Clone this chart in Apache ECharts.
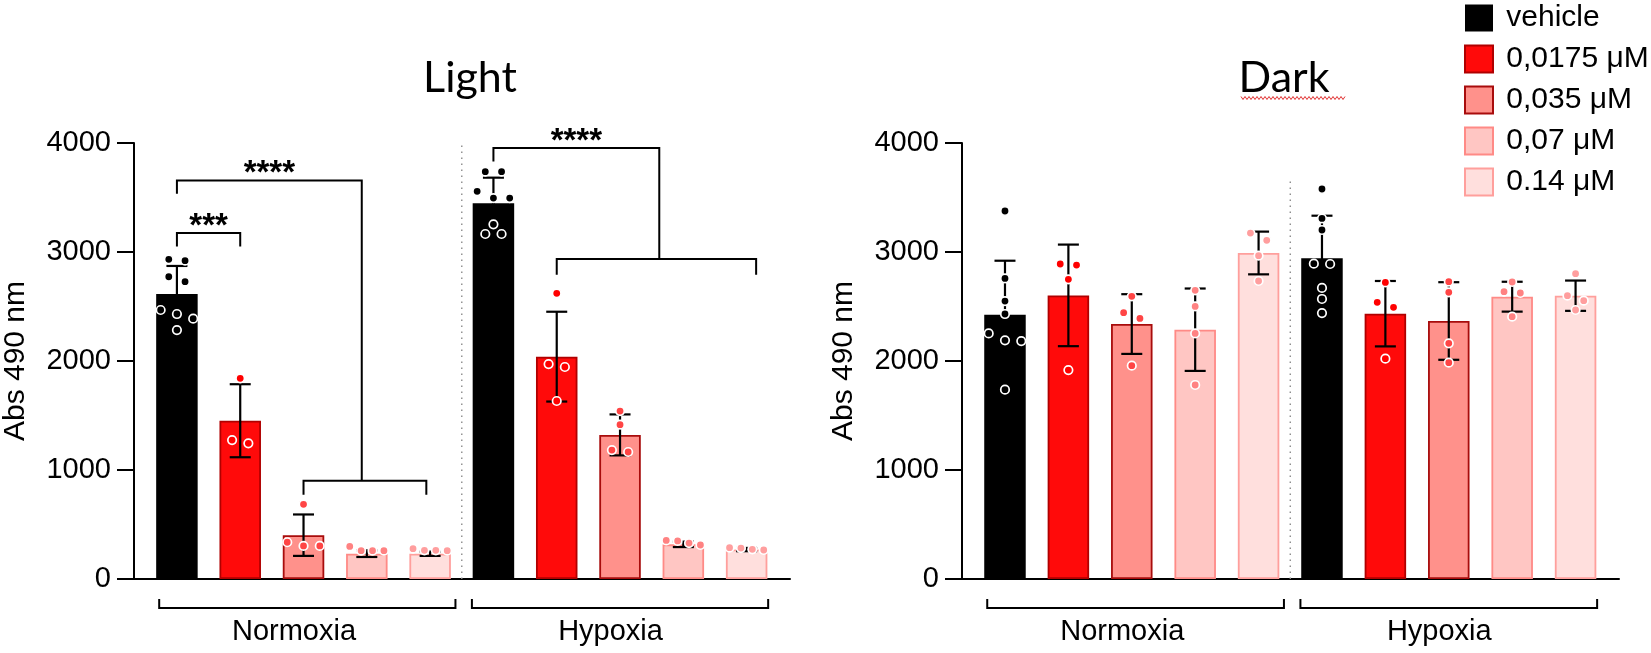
<!DOCTYPE html>
<html>
<head>
<meta charset="utf-8">
<title>Abs 490 nm - Light / Dark</title>
<script src="https://cdn.jsdelivr.net/npm/echarts@6.0.0/dist/echarts.min.js"></script>
<style>
html, body { margin: 0; padding: 0; background: #fff; }
#chart { width: 1651px; height: 653px; }
</style>
</head>
<body>
<div id="chart"></div>
<script>
var doses = ['vehicle', '0,0175 μM', '0,035 μM', '0,07 μM', '0.14 μM'];
var groups = ['Normoxia', 'Hypoxia'];
var panels = ['Light', 'Dark'];
var yTicks = [0, 1000, 2000, 3000, 4000];

// Light - bar means / SD, one entry per dose
var lightNormMean = [2615, 1452, 402, 232, 232];
var lightNormSD = [257, 335, 190, 30, 20];
var lightHypMean = [3447, 2040, 1322, 318, 270];
var lightHypSD = [235, 412, 188, 25, 15];

// Light - single wells
var lightNormDots = [
    [2933, 2920, 2773, 2728, 2468, 2431, 2388, 2284],
    [1841, 1275, 1245],
    [685, 337, 303, 303],
    [299, 260, 260, 260],
    [278, 263, 263, 260]
];
var lightHypDots = [
    [3737, 3737, 3557, 3495, 3495, 3254, 3165, 3165],
    [2621, 1972, 1945, 1633],
    [1541, 1416, 1183, 1165],
    [354, 349, 330, 312],
    [287, 284, 272, 266]
];

// Dark
var darkNormMean = [2425, 2602, 2339, 2287, 2991];
var darkNormSD = [495, 466, 274, 378, 196];
var darkHypMean = [2942, 2434, 2367, 2590, 2599];
var darkHypSD = [391, 300, 356, 137, 139];

var darkNormDots = [
    [3376, 2758, 2550, 2431, 2253, 2190, 2183, 1737],
    [2890, 2880, 2749, 1917],
    [2593, 2443, 2391, 1957],
    [2648, 2501, 2253, 1780],
    [3174, 3107, 2966, 2734]
];
var darkHypDots = [
    [3578, 3308, 3202, 2893, 2890, 2670, 2569, 2440],
    [2721, 2538, 2492, 2021],
    [2728, 2630, 2162, 1985],
    [2725, 2636, 2624, 2407],
    [2801, 2599, 2553, 2468]
];

var means = [[lightNormMean, lightHypMean], [darkNormMean, darkHypMean]];
var sds = [[lightNormSD, lightHypSD], [darkNormSD, darkHypSD]];
var dots = [[lightNormDots, lightHypDots], [darkNormDots, darkHypDots]];

// styling
var barFill = ['#000000', '#ff0a0a', '#ff918b', '#ffc6c3', '#ffdfdd'];
var barLine = ['#000000', '#b00000', '#a80c0c', '#ff8a86', '#ff9f9c'];
var dotFill = ['#000000', '#ff0000', '#ff4545', '#ff8282', '#ff9e9e'];
var FONT = 'Liberation Sans';

// x runs in bar slots: 0-4 normoxia, 5-9 hypoxia
var X_MIN = -0.678, X_MAX = 9.685;
var DOT_STEP = 0.257, ROW_SPAN = 0.54, ROW_TOL = 85;

// significance brackets (only the light panel has them)
var sigBrackets = [
    [
        {stars: '***', from: 0, to: 1, y: 3174, drop: 3051, toDrop: 3051},
        {stars: '****', from: 0, to: 2.92, y: 3657, drop: 3535, toDrop: 902, sub: {from: 2, to: 3.94, drop: 773}},
        {stars: '****', from: 5, to: 7.62, y: 3954, drop: 3831, toDrop: 2936, sub: {from: 6, to: 9.15, drop: 2792}}
    ],
    []
];
var sepTop = [4000, 3650];
var groupSpan = [[-0.28, 4.4], [4.66, 9.34]];
var groupLabelX = [1.85, 6.85];

// simple beeswarm: dots within ROW_TOL of each other share a centred row
function swarm(values, center) {
    var sorted = values.slice().sort(function (a, b) { return b - a; });
    var rows = [], row = null;
    sorted.forEach(function (v) {
        if (row && row[0] - v < ROW_TOL) {
            row.push(v);
        } else {
            row = [v];
            rows.push(row);
        }
    });
    var pts = [];
    rows.forEach(function (r) {
        var step = r.length > 1 ? Math.min(DOT_STEP, ROW_SPAN / (r.length - 1)) : 0;
        r.forEach(function (v, k) {
            pts.push([center + (k - (r.length - 1) / 2) * step, v]);
        });
    });
    return pts;
}

function renderErrorBar(params, api) {
    var x = api.value(0), m = api.value(1), s = api.value(2);
    var top = api.coord([x, m + s]), bot = api.coord([x, m - s]);
    var hw = 10.5;
    var st = {stroke: '#000', lineWidth: 2.2};
    return {
        type: 'group',
        children: [
            {type: 'line', shape: {x1: top[0], y1: top[1], x2: bot[0], y2: bot[1]}, style: st},
            {type: 'line', shape: {x1: top[0] - hw, y1: top[1], x2: top[0] + hw, y2: top[1]}, style: st},
            {type: 'line', shape: {x1: bot[0] - hw, y1: bot[1], x2: bot[0] + hw, y2: bot[1]}, style: st}
        ]
    };
}

function annotationRenderer(p) {
    return function (params, api) {
        var children = [];
        var lineStyle = {stroke: '#000', lineWidth: 2, fill: null};
        function pt(x, y) { return api.coord([x, y]); }

        // dotted divider between normoxia and hypoxia
        var s0 = pt(4.5, 0), s1 = pt(4.5, sepTop[p]);
        children.push({type: 'line', shape: {x1: s0[0], y1: s0[1], x2: s1[0], y2: s1[1]},
            style: {stroke: '#8c8c8c', lineWidth: 1.4, lineDash: [1.4, 4.6]}});

        sigBrackets[p].forEach(function (b) {
            children.push({type: 'polyline', style: lineStyle,
                shape: {points: [pt(b.from, b.drop), pt(b.from, b.y), pt(b.to, b.y), pt(b.to, b.toDrop)]}});
            if (b.sub) {
                children.push({type: 'polyline', style: lineStyle,
                    shape: {points: [pt(b.sub.from, b.sub.drop), pt(b.sub.from, b.toDrop),
                        pt(b.sub.to, b.toDrop), pt(b.sub.to, b.sub.drop)]}});
            }
            var mid = pt((b.from + b.to) / 2, b.y);
            children.push({type: 'text', x: mid[0], y: mid[1] - 6,
                style: {text: b.stars, fill: '#000', fontSize: 33, fontWeight: 'bold', fontFamily: FONT,
                    align: 'center', verticalAlign: 'middle'}});
        });

        // group brackets under the axis
        groups.forEach(function (g, gi) {
            var span = groupSpan[gi];
            children.push({type: 'polyline', style: lineStyle,
                shape: {points: [pt(span[0], -183), pt(span[0], -266), pt(span[1], -266), pt(span[1], -183)]}});
            var lp = pt(groupLabelX[gi], -484);
            children.push({type: 'text', x: lp[0], y: lp[1],
                style: {text: g, fill: '#000', fontSize: 29, fontFamily: FONT,
                    align: 'center', verticalAlign: 'middle'}});
        });
        return {type: 'group', children: children};
    };
}

// red spell-check squiggle under a title (it is in the source figure)
function squiggle(x0, x1, y) {
    var pts = [];
    for (var x = x0, k = 0; x <= x1; x += 2, k++) {
        pts.push([x, y + (k % 2 ? 1.5 : -1.5)]);
    }
    return pts;
}

var chart = echarts.init(document.getElementById('chart'));

var grids = [], xAxes = [], yAxes = [], series = [];
panels.forEach(function (name, p) {
    grids.push({left: p === 0 ? 133 : 962, top: 143, width: 657, height: 436});
    xAxes.push({
        type: 'value', gridIndex: p, min: X_MIN, max: X_MAX,
        axisLine: {show: true, onZero: false, lineStyle: {color: '#000', width: 2}},
        axisTick: {show: false}, axisLabel: {show: false}, splitLine: {show: false}
    });
    yAxes.push({
        type: 'value', gridIndex: p, min: yTicks[0], max: yTicks[yTicks.length - 1],
        interval: yTicks[1] - yTicks[0],
        name: 'Abs 490 nm', nameLocation: 'middle', nameGap: 103,
        nameTextStyle: {color: '#000', fontSize: 30, fontFamily: FONT},
        axisLine: {show: true, onZero: false, lineStyle: {color: '#000', width: 2}},
        axisTick: {show: true, length: 17, lineStyle: {color: '#000', width: 2}},
        axisLabel: {color: '#000', fontSize: 29, fontFamily: FONT, margin: 23,
            formatter: function (v) { return String(v); }},
        splitLine: {show: false}
    });
});

// bars
panels.forEach(function (name, p) {
    doses.forEach(function (dose, d) {
        series.push({
            name: dose, type: 'bar', xAxisIndex: p, yAxisIndex: p,
            barWidth: 41.5, barGap: '-100%', z: 2,
            itemStyle: {color: barFill[d], borderColor: barLine[d], borderWidth: d === 0 ? 0 : 1.8},
            emphasis: {disabled: true},
            data: [[d, means[p][0][d]], [5 + d, means[p][1][d]]]
        });
    });
});

// error bars (mean +/- SD)
panels.forEach(function (name, p) {
    var errData = [];
    groups.forEach(function (g, gi) {
        doses.forEach(function (dose, d) {
            errData.push([gi * 5 + d, means[p][gi][d], sds[p][gi][d]]);
        });
    });
    series.push({
        type: 'custom', xAxisIndex: p, yAxisIndex: p, z: 3, silent: true,
        renderItem: renderErrorBar, data: errData
    });
});

// single values
panels.forEach(function (name, p) {
    doses.forEach(function (dose, d) {
        series.push({
            name: dose, type: 'scatter', xAxisIndex: p, yAxisIndex: p, z: 4,
            symbol: 'circle', symbolSize: 8.5,
            itemStyle: {color: dotFill[d], borderColor: '#fff', borderWidth: 1.7, opacity: 1},
            emphasis: {disabled: true},
            data: swarm(dots[p][0][d], d).concat(swarm(dots[p][1][d], 5 + d))
        });
    });
});

// dividers, brackets, group labels
panels.forEach(function (name, p) {
    series.push({
        type: 'custom', xAxisIndex: p, yAxisIndex: p, z: 5, silent: true, clip: false,
        renderItem: annotationRenderer(p), data: [[0, 0]]
    });
});

var option = {
    animation: false,
    backgroundColor: '#fff',
    grid: grids,
    xAxis: xAxes,
    yAxis: yAxes,
    legend: {
        data: doses, orient: 'vertical', left: 1464, top: 3, padding: 0,
        icon: 'rect', itemWidth: 28, itemHeight: 27, itemGap: 11,
        selectedMode: false,
        formatter: function (n) { return ' ' + n; },
        textStyle: {color: '#000', fontSize: 30, fontFamily: FONT, lineHeight: 30}
    },
    graphic: [
        {type: 'text', x: 470, y: 78, style: {text: panels[0], fill: '#000', fontSize: 43,
            fontFamily: 'Lato', align: 'center', verticalAlign: 'middle'}},
        {type: 'text', x: 1284, y: 78, style: {text: panels[1], fill: '#000', fontSize: 43,
            fontFamily: 'Lato', align: 'center', verticalAlign: 'middle'}},
        {type: 'polyline', shape: {points: squiggle(1241, 1345, 98)},
            style: {stroke: '#e03030', lineWidth: 1, fill: null}}
    ],
    series: series
};
chart.setOption(option);
</script>
</body>
</html>
